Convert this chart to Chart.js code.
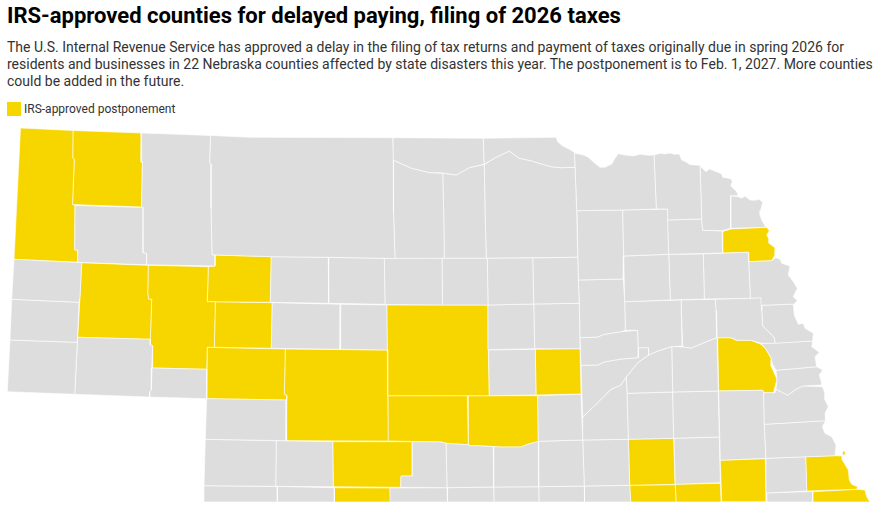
<!DOCTYPE html>
<html>
<head>
<meta charset="utf-8">
<title>IRS-approved counties</title>
<script src="https://cdn.jsdelivr.net/npm/chart.js@4"></script>
<style>
    html, body { margin: 0; padding: 0; background: #fff; width: 882px; height: 511px; overflow: hidden; font-family: Roboto, sans-serif; }
    h1 { position: absolute; left: 7px; top: 3px; margin: 0; font-size: 22px; line-height: 26px; font-weight: 700; color: #000; white-space: nowrap; }
    p { position: absolute; left: 7px; top: 39px; margin: 0; font-size: 14px; line-height: 17px; color: #333; white-space: nowrap; }
    #swatch { position: absolute; left: 7px; top: 102px; width: 14px; height: 14px; background: #f7d600; }
    #legend { position: absolute; left: 24px; top: 101px; font-size: 12px; line-height: 16px; color: #333; white-space: nowrap; }
    #wrap { position: absolute; left: 0; top: 120px; width: 882px; height: 382px; }
</style>
</head>
<body>
<h1>IRS-approved counties for delayed paying, filing of 2026 taxes</h1>
<p>The U.S. Internal Revenue Service has approved a delay in the filing of tax returns and payment of taxes originally due in spring 2026 for<br>residents and businesses in 22 Nebraska counties affected by state disasters this year. The postponement is to Feb. 1, 2027. More counties<br>could be added in the future.</p>
<div id="swatch"></div>
<div id="legend">IRS-approved postponement</div>
<div id="wrap"><canvas id="map" width="882" height="382"></canvas></div>
<script>
// county outlines as [x, y]
const sioux = [[20.5,128],[73,130.5],[72.7,158],[74.3,159],[72.5,204.5],[75,205.5],[74.7,250],[77.7,250],[77.7,262.3],[14,259.3]];
const dawes = [[73,130.5],[141.7,133],[141,162],[142.5,162],[141.5,207],[72.5,204.5],[74.3,159],[72.7,158]];
const sheridan = [[141.7,133],[210.5,135.5],[209.5,163],[211,164],[211,208],[212,255],[215,255],[215,266],[146.7,264.8],[146.7,253.3],[143,252.5],[143.3,207.5],[141.5,207],[142.5,162],[141,162]];
const boxButte = [[75,205.5],[143.3,207.5],[143,252.5],[146.7,253.3],[146.7,264.8],[77.7,262.3],[77.7,250],[74.7,250]];
const cherry = [[210.5,135.5],[250,137.3],[392.7,137.7],[393.3,160],[393.5,212],[395,258.5],[328,257.3],[271.3,256.7],[215,255],[212,255],[211,208],[211,164],[209.5,163]];
const scottsBluff = [[14,259.3],[81.7,262.7],[80,296.7],[79,302.3],[11.7,299.3]];
const banner = [[11.7,299.3],[79,302.3],[77.3,342.3],[10,340]];
const kimball = [[10,340],[77.3,342.3],[74.7,394.3],[7.3,391.7]];
const morrill = [[81.7,262.7],[148.3,265.3],[147.7,293.3],[148.7,299.3],[151.7,299.3],[150.3,339.3],[77.7,337.3],[80,296.7]];
const cheyenne = [[77.7,337.3],[150.3,339.3],[150.3,345],[152.7,345.7],[151.7,368.3],[151.3,390],[149.7,391.7],[149.7,397],[74.7,394.3]];
const garden = [[148.3,265.3],[208.3,266.7],[207.3,301.7],[215.3,301.7],[214.3,347.3],[207.3,347.3],[206.7,369.3],[152,368],[152.7,345.7],[150.3,345],[150.3,339.3],[151.7,299.3],[148.7,299.3],[147.7,293.3]];
const deuel = [[152,368],[206.7,369.3],[206.7,398.7],[149.7,397],[149.7,391.7],[151.3,390]];
const grant = [[215,255],[271.3,256.7],[270.3,302.3],[207.3,301.7],[208.3,266.7],[215,266]];
const arthur = [[215.3,301.7],[272.3,302.7],[271.3,348.3],[214.3,347.3]];
const keith = [[207.3,347.3],[285.3,349],[284.3,394],[286.7,395.3],[286.7,400],[206.7,398.7]];
const perkins = [[206.7,398.7],[286.7,400],[286,440.7],[205.3,439.3]];
const lincoln = [[285.3,349],[387.3,350],[387.7,395.3],[388.3,441],[286,440.7],[286.7,395.3],[284.3,394]];
const hooker = [[271.3,256.7],[328.3,257.3],[328.7,303.3],[270.3,302.3]];
const thomas = [[328.3,257.3],[384.3,258.3],[385,304.3],[328.7,303.3]];
const blaine = [[384.3,258.3],[442,258.3],[442.5,305],[385,304.5]];
const loup = [[442,258.3],[487.3,258.3],[488,305],[442.5,305]];
const garfield = [[487.3,258.3],[532.7,258],[533.7,304],[488,305]];
const wheeler = [[532.7,258],[577.7,257.3],[578.3,280],[579.3,303.3],[533.7,304]];
const logan = [[272.3,302.7],[340.7,304.3],[340,349.3],[271.3,348.3]];
const mcpherson = [[340.7,304.3],[386.7,305],[387.3,350],[340,349.3]];
const custer = [[386.7,305],[488,305],[488.3,349.3],[489.3,395.7],[387.7,395.7],[387.3,350]];
const valley = [[488,305],[533.7,304],[534.7,348.7],[488.5,349.7]];
const greeley = [[533.7,304],[579.3,303.3],[580,348.7],[534.7,348.7]];
const sherman = [[488.7,350],[535.3,349.3],[536,395],[489.3,395.7]];
const howard = [[535.3,349.3],[580,348.7],[581,394],[536,395]];
const hall = [[537.7,395.7],[581,394.3],[582.7,440],[538.3,441.3]];
const dawson = [[388,395.7],[467.3,395.5],[468.3,444.7],[447.7,443.7],[441,442],[388.3,441]];
const buffalo = [[468.3,395.7],[537.7,395.7],[538.3,441.7],[527.7,444.3],[521,447],[501,447],[477.7,445.7],[470.3,445.7],[468.3,444.7]];
const keyaPaha = [[393,137.7],[483.3,138.3],[484,164.3],[469.3,167.7],[456,175],[441,172.7],[430,172.7],[411.7,168.3],[393.3,160]];
const boyd = [[483.3,138.3],[556,137.3],[557.7,141.7],[562.7,146],[569.3,149.3],[574.3,152.3],[575,167.3],[561,167.7],[551,166.7],[539.3,163.3],[531,160.7],[519.3,158.3],[509.3,151],[496,157.3],[484,164.3]];
const brown = [[393.3,160],[411.7,168.3],[430,172.7],[442.7,173.3],[443.7,213.3],[444.3,258.3],[395,258.5],[393.5,212]];
const rock = [[442.7,173.3],[456,175],[469.3,167.7],[484.3,164.5],[485,211.7],[486.3,258.3],[444.3,258.3],[443.7,213.3]];
const holt = [[484.3,164.5],[496,157.3],[509.3,151],[519.3,158.3],[531,160.7],[539.3,163.3],[551,166.7],[561,167.7],[575,167.3],[576.7,210.7],[577.7,257.3],[486.3,258.3],[485,211.7]];
const knox = [[574.3,152.3],[575.7,153.3],[583.3,155],[588.3,157.3],[595,163.3],[600,167.3],[605,167.3],[611.7,164],[615,158.3],[618.3,153.7],[625,155],[633.3,156],[640,154.3],[648.3,155.3],[654,155],[656.3,209],[622.7,210],[576.7,210.7],[575,167.3]];
const cedar = [[654,155],[660.7,153.3],[665,154],[670,153],[675,154.3],[679.3,154],[681.7,160],[686.7,162.3],[690,164.7],[700,165.3],[701.7,219],[667.7,220],[667.7,209],[656.3,209]];
const dixon = [[700,165.3],[702,168],[706,171.7],[709.3,169],[716.7,171.7],[721.7,174],[722.7,177.3],[731,178.7],[732.3,181.7],[730.7,186],[736.7,191.7],[738.3,195.7],[730.7,195.7],[730.7,228.3],[722.7,230.7],[702.7,230.3],[701.7,219]];
const dakota = [[730.7,195.7],[738.3,196.7],[741.7,198.3],[745,196],[750,200],[755,200.3],[759.3,199.3],[762.7,202.3],[760.7,210],[760,215],[761.7,220],[765,226],[766.7,227.3],[730.7,228.3]];
const thurston = [[722,231.7],[731,229],[766.7,227.3],[769.3,230.7],[766.7,235],[769,239.3],[769,243.3],[775.7,248.3],[775,255],[771.7,260.7],[748.7,261.7],[748,252.3],[722.7,253]];
const wayne = [[667.7,220],[701.7,219],[702.7,230.3],[722,231],[722.7,253],[668.7,254.3]];
const pierce = [[622.7,210],[667.7,209],[668.7,254.3],[623.7,256]];
const antelope = [[577,210.7],[622.7,210],[623.7,256],[623.3,279],[578.3,280]];
const madison = [[623.7,256],[668.7,254.3],[670.3,300],[624.7,301.7]];
const stanton = [[668.7,254.3],[703.3,254],[704.3,299],[670.3,300]];
const cuming = [[703.3,254],[748,252.3],[748.7,261.7],[750.3,298.3],[704.3,299]];
const burt = [[748.7,261.7],[771.7,260.7],[775.7,257.7],[780,259],[781.7,263.3],[790,266],[788.3,275],[793.3,281.7],[797.3,288.3],[793.3,296.7],[797.3,300.7],[794.3,304],[761.7,305.3],[761,297.7],[750.3,298.3]];
const boone = [[578.3,280],[623.3,279],[624.7,301.7],[625.3,330.3],[621,331.7],[604.3,334.3],[597.7,337],[580,337.7],[579.3,303.3]];
const platte = [[624.7,301.7],[681,300],[682,346],[671,346.7],[657.7,351],[648.7,355],[648.7,347.7],[638.3,347.7],[637.7,330.3],[625.3,330.3]];
const nance = [[580,337.7],[597.7,337],[604.3,334.3],[621,331.7],[637.7,330.3],[638.3,347.7],[638.3,357.7],[621,359],[604.3,362],[597.7,365],[581,365.3]];
const merrick = [[581,365.3],[597.7,365],[604.3,362],[621,359],[638.3,357.7],[638.3,347.7],[648.7,347.7],[648.7,355],[637.7,362.7],[626.3,377],[621,385],[611,389.3],[594.3,406],[582.7,417]];
const hamilton = [[582.7,417],[594.3,406],[611,389.3],[621,385],[626.3,377],[627,393.3],[628.3,439.3],[582.7,440]];
const polk = [[626.3,377],[637.7,362.7],[648.7,355],[657.7,351],[671.7,346.7],[672.7,392],[627,393.3]];
const butler = [[671.7,346.7],[682.7,347],[691,348.3],[704.3,342.7],[717,337.7],[718.3,391],[672.7,392]];
const colfax = [[681,300],[715.3,299.3],[716,311],[716.7,337.7],[704.3,342.7],[691,348.3],[682.7,347]];
const dodge = [[715.3,299.3],[761.3,297.7],[761.7,311],[762.7,326],[774.3,337.7],[775,343.3],[761,343.3],[751,340.3],[737.7,340.3],[731,337.7],[717,337.7]];
const washington = [[761.7,305.3],[794.3,304],[793.3,305],[794.3,315],[798.3,324.3],[803.3,323.3],[805,328.3],[813.3,333.3],[812.7,341],[775,343.3],[774.3,337.7],[762.7,326],[761.7,311]];
const douglas = [[775,343],[812.7,341],[811.7,346.7],[819.3,352.3],[815,356.7],[816.7,366.7],[776,370.3],[772.7,364.3],[771,357.7],[766,349.3],[761,343.3]];
const saunders = [[717.7,337.7],[731,337.7],[736,340.3],[751,340.3],[761,344.3],[766,349.3],[771.7,359.3],[771,366],[777,379.3],[774.3,389.3],[773.7,392.7],[763.7,392.7],[762.7,390.3],[718.7,391]];
const sarpy = [[776,370.3],[816.7,366.7],[822.7,370],[819.3,375],[821.7,383.3],[821.7,385],[802.7,386],[796,389.3],[787.7,395.3],[781,391.7],[776,389.3],[777,379.3]];
const cass = [[763.7,392.7],[775,392.7],[776,389.3],[781,391.7],[787.7,395.3],[796,389.3],[802.7,386],[822.3,386.7],[825,393.3],[825,400],[828.3,406.7],[825,413.3],[825.7,420.7],[764.3,424.3]];
const otoe = [[764.3,424.3],[825.7,420.7],[822.3,426.7],[825,433.3],[831.7,436.7],[836,445],[835,455.7],[766,458.3]];
const nemaha = [[805.7,456.7],[835,455.7],[841.7,456],[845.7,454.3],[845,450.7],[842.3,451.7],[842.3,460],[848.3,470],[849.3,480],[851.7,484.3],[857.7,486.7],[856.7,489.3],[806.7,491]];
const johnson = [[766,458.3],[805.7,456.7],[806.7,491],[766.7,493]];
const gage = [[720.3,460.3],[765.3,458.7],[766,501.7],[721.7,501.7]];
const lancaster = [[718.7,391],[762.7,390.3],[763.7,392.7],[764.3,424.3],[766,458.3],[720.3,460.3]];
const seward = [[672.7,392],[718.3,391],[719.3,437],[673.7,438.3]];
const york = [[627,393.3],[672.7,392],[673.7,438.3],[628.3,439.3]];
const saline = [[674,438.3],[719.3,437],[720.3,482.7],[675.3,484.3]];
const fillmore = [[628.3,439.3],[673.7,438.3],[675,484.3],[629.7,485.3]];
const thayer = [[629.7,485.3],[675.3,484.7],[676,502],[630.7,502]];
const jefferson = [[675.3,484.3],[720.3,483.3],[721,502],[676,502]];
const pawnee = [[766.7,493],[812.7,491.5],[812.7,502],[767,502]];
const richardson = [[812.7,491.7],[856.7,489.3],[865,490],[866.7,496.7],[870,502],[812.7,502]];
const frontier = [[332.7,441.7],[412.3,441.7],[412.3,476],[401,476],[400.7,487.3],[333.3,486.7]];
const gosper = [[412.3,441.7],[441,442],[446,443.3],[447,487.7],[400.7,487.3],[401,476],[412.3,476]];
const phelps = [[446,443.3],[467.7,444.7],[470.3,445.7],[477.7,445.7],[493.3,446.7],[493.7,487],[447,487.7]];
const kearney = [[493.3,446.7],[501,447],[521,447],[527.7,444.3],[538.3,441.3],[538.7,486.7],[493.7,487]];
const adams = [[538.3,441.3],[582.7,440],[584.3,486],[538.7,486.7]];
const clay = [[582.7,440],[628.3,439.3],[629.7,485.3],[584.3,486]];
const chase = [[205.3,439.3],[276.3,440.7],[275.7,486.3],[204,485.7]];
const hayes = [[276.3,440.7],[332.7,441.7],[333.3,486.7],[275.7,486.3]];
const dundy = [[204,485.7],[277,486.5],[277.3,502],[204,502]];
const hitchcock = [[277,486.5],[334.3,487.7],[334.3,502],[277.3,502]];
const furnas = [[334.3,487.7],[390,488],[390.7,502],[334.3,502]];
const redWillow = [[390,488],[447,487.7],[447.5,502],[390.7,502]];
const harlan = [[447,487.7],[493.7,487],[494,502],[447.5,502]];
const franklin = [[493.7,487],[538.7,486.7],[539,502],[494,502]];
const webster = [[538.7,486.7],[584.3,486],[584.5,502],[539,502]];
const nuckolls = [[584.3,486],[629.7,485.3],[630.7,502],[584.5,502]];

const approvedCounties = [sioux, dawes, morrill, garden, grant, arthur, keith, lincoln, custer, dawson, buffalo, howard, frontier, furnas, thurston, saunders, fillmore, thayer, jefferson, gage, nemaha, richardson];
const otherCounties = [sheridan, boxButte, cherry, scottsBluff, banner, kimball, cheyenne, deuel, perkins, hooker, thomas, blaine, loup, garfield, wheeler, logan, mcpherson, valley, greeley, sherman, hall, keyaPaha, boyd, brown, rock, holt, knox, cedar, dixon, dakota, wayne, pierce, antelope, madison, stanton, cuming, burt, boone, platte, nance, merrick, hamilton, polk, butler, colfax, dodge, washington, douglas, sarpy, cass, otoe, johnson, lancaster, seward, york, saline, pawnee, gosper, phelps, kearney, adams, clay, chase, hayes, dundy, hitchcock, redWillow, harlan, franklin, webster, nuckolls];

function countyDataset(shape, color) {
    const points = shape.map(p => ({ x: p[0], y: p[1] }));
    points.push(points[0]);
    return {
        data: points,
        showLine: true,
        fill: 'shape',
        backgroundColor: color,
        borderColor: 'rgba(255, 255, 255, 0.6)',
        borderWidth: 1,
        pointRadius: 0,
        tension: 0
    };
}

new Chart(document.getElementById('map').getContext('2d'), {
    type: 'scatter',
    data: {
        datasets: otherCounties.map(c => countyDataset(c, '#dddddd'))
            .concat(approvedCounties.map(c => countyDataset(c, '#f7d600')))
    },
    options: {
        responsive: false,
        animation: false,
        events: [],
        layout: { padding: 0 },
        plugins: { legend: { display: false }, tooltip: { enabled: false } },
        scales: {
            x: { type: 'linear', display: false, min: 0, max: 882 },
            y: { type: 'linear', display: false, min: 120, max: 502, reverse: true }
        }
    }
});
</script>
</body>
</html>
